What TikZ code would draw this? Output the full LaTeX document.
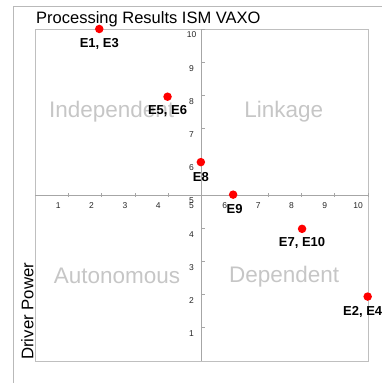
\documentclass[tikz,border=0pt]{standalone}
\usepackage{fontspec}
\setmainfont{Liberation Sans}
\tikzset{
    vertex/.style = {
        circle,
        fill            = red,
        inner sep = 0pt,
        minimum size = 8.5pt,
    },
    pointlabel/.style = {
        anchor = base,
        inner sep = 0pt,
        font = \bfseries\fontsize{13}{13}\selectfont,
    },
    quadrant/.style = {
        anchor = base,
        inner sep = 0pt,
        text = gray!45,
        font = \fontsize{22.5}{22.5}\selectfont,
    },
    ticklabel/.style = {
        inner sep = 0pt,
        text = black!85,
        font = \fontsize{8.5}{8.5}\selectfont,
    },
    axisline/.style = {draw=gray!70, line width=0.8pt},
}

\begin{document}
\begin{tikzpicture}[x=33.3pt,y=33.2pt]
  \useasboundingbox (-1.051,-0.663) rectangle (10.42,10.873);
  % Rahmen
  \draw[gray!55,line width=0.8pt] (-0.661,-0.663) -- (-0.661,10.693) -- (10.42,10.693);
  \draw[gray!50,line width=0.8pt] (0,0) rectangle (10,10);

  % Titel
  \node[anchor=base west,inner sep=0pt,font=\fontsize{16.5}{16.5}\selectfont] (Title) at (0.03,10.17) {Processing Results ISM VAXO};
  \node[anchor=base west,inner sep=0pt,rotate=90,font=\fontsize{16.8}{16.8}\selectfont] (YLabel) at (-0.05,0.03) {Driver Power};

  % Quadranten
  \node[quadrant] (Independent) at (2.30,7.32) {Independent};
  \node[quadrant] (Linkage) at (7.47,7.32) {Linkage};
  \node[quadrant] (Autonomous) at (2.46,2.33) {Autonomous};
  \node[quadrant] (Dependent) at (7.48,2.35) {Dependent};

  % Achsen
  \draw[axisline] (0,5) -- (10,5);
  \draw[axisline] (5,0) -- (5,10);
  \foreach \k in {1,...,10} {
    \draw[axisline] (\k,4.94) -- (\k,5.06);
    \draw[axisline] (5,\k) -- (5.09,\k);
    \node[ticklabel] at (\k-0.3,4.67) {\k};
    \node[ticklabel] at (4.7,\k-0.18) {\k};
  }

  % Elemente
  \node[vertex] (E13) at (1.93,10) {};
  \node[vertex] (E56) at (3.98,7.96) {};
  \node[vertex] (E8) at (4.98,5.99) {};
  \node[vertex] (E9) at (5.95,5.01) {};
  \node[vertex] (E710) at (8.02,3.98) {};
  \node[vertex] (E24) at (9.99,1.94) {};

  \node[pointlabel] (LE13) at ([yshift=-19pt]E13) {E1, E3};
  \node[pointlabel] (LE56) at ([yshift=-18pt]E56) {E5, E6};
  \node[pointlabel] (LE8) at ([yshift=-19pt]E8) {E8};
  \node[pointlabel] (LE9) at ([xshift=1.5pt,yshift=-19pt]E9) {E9};
  \node[pointlabel] (LE710) at ([yshift=-18pt]E710) {E7, E10};
  \node[pointlabel] (LE24) at ([xshift=-5pt,yshift=-19pt]E24) {E2, E4};

\end{tikzpicture}
\end{document}
